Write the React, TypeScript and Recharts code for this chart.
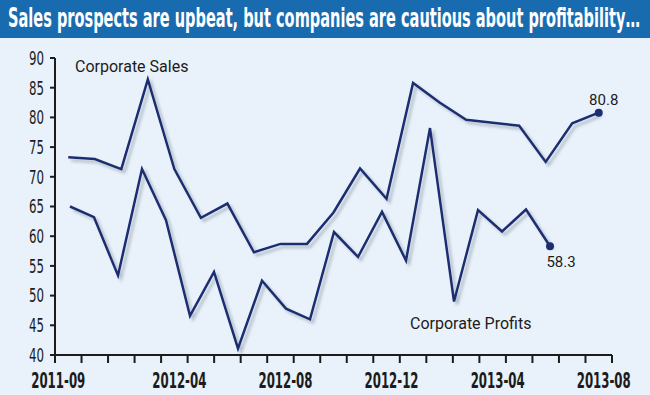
import { LineChart, Line, XAxis, YAxis } from "recharts";

document.body.style.margin = "0";

// values, in order of the points along each line
const salesValues = [73.3, 73.0, 71.3, 86.4, 71.3, 63.1, 65.5, 57.3, 58.7, 58.7, 64.0, 71.4, 66.3, 85.8, 82.5, 79.6, 79.1, 78.6, 72.5, 79.0, 80.8];
const profitValues = [65.0, 63.2, 53.4, 71.3, 62.7, 46.6, 54.0, 41.1, 52.5, 47.8, 46.0, 60.7, 56.5, 64.1, 55.9, 78.2, 49.0, 64.4, 60.8, 64.5, 58.3];

const xLabels = ["2011-09", "2012-04", "2012-08", "2012-12", "2013-04", "2013-08"];
const xLabelAt = [0, 4, 8, 12, 16, 20];
const yTicks = [40, 45, 50, 55, 60, 65, 70, 75, 80, 85, 90];

const salesData = salesValues.map((v, i) => ({ si: i, sales: v }));
const profitData = profitValues.map((v, i) => ({ pi: i, profits: v }));

// boundary marks between periods, plus the labelled periods
const xTicks = [
  ...Array.from({ length: salesValues.length + 1 }, (_, k) => k - 0.5),
  ...xLabelAt,
];

const NAVY = "#1e2d72";
const INK = "#1c1c1c";
const CONDENSED = "'Liberation Sans Narrow', 'DejaVu Sans Condensed', 'Liberation Sans', sans-serif";
const PLAIN = "Roboto, 'Noto Sans', sans-serif";

function XTick(props: any) {
  const { x, y, payload } = props;
  const k = xLabelAt.indexOf(payload.value);
  if (k < 0) {
    return <line x1={x} x2={x} y1={y} y2={y + 8} stroke={INK} strokeWidth={2} />;
  }
  return (
    <text
      x={x + (k === 0 ? -10 : 5)}
      y={y + 33}
      textAnchor="middle"
      fontFamily={CONDENSED}
      fontWeight="bold"
      fontSize={22}
      fill={INK}
      textLength={54}
      lengthAdjust="spacingAndGlyphs"
    >
      {xLabels[k]}
    </text>
  );
}

function YTick(props: any) {
  const { x, y, payload } = props;
  return (
    <text
      x={x}
      y={y}
      dy="0.36em"
      textAnchor="end"
      fontFamily={CONDENSED}
      fontSize={19}
      fill={INK}
      textLength={15}
      lengthAdjust="spacingAndGlyphs"
    >
      {payload.value}
    </text>
  );
}

const endDot = (len: number, key: string, dx: number, dy: number) => (p: any) => {
  if (p.index !== len - 1) return <g key={`d${key}${p.index}`} />;
  return (
    <g key={`d${key}${p.index}`}>
      <circle cx={p.cx} cy={p.cy} r={4} fill={NAVY} />
      <text
        x={p.cx + dx}
        y={p.cy + dy}
        textAnchor="middle"
        fontFamily={PLAIN}
        fontSize={15}
        fill={INK}
      >
        {p.payload[key]}
      </text>
    </g>
  );
};

export default function App() {
  return (
    <div style={{ position: "relative", width: 650, height: 395, background: "#e9f2fa" }}>
      <LineChart width={650} height={395} margin={{ top: 58, right: 38, left: 0, bottom: 0 }}>
        <defs>
          <filter id="lineShadow" x="-5%" y="-5%" width="110%" height="120%">
            <feDropShadow dx="3" dy="3" stdDeviation="1.5" floodColor="#7d8a9c" floodOpacity="0.55" />
          </filter>
        </defs>
        <XAxis
          xAxisId="s"
          dataKey="si"
          type="number"
          domain={[-0.5, 20.5]}
          ticks={xTicks}
          interval={0}
          height={40}
          tickSize={0}
          tickMargin={0}
          tick={<XTick />}
          axisLine={{ stroke: INK, strokeWidth: 2 }}
          tickLine={false}
        />
        <XAxis xAxisId="p" dataKey="pi" type="number" domain={[-0.625, 22.583]} height={0} hide />
        <YAxis
          domain={[40, 90]}
          ticks={yTicks}
          interval={0}
          width={55}
          tickSize={5}
          tickMargin={6}
          tick={<YTick />}
          axisLine={{ stroke: INK, strokeWidth: 2 }}
          tickLine={{ stroke: INK, strokeWidth: 2 }}
        />
        <Line
          xAxisId="s"
          data={salesData}
          dataKey="sales"
          type="linear"
          stroke={NAVY}
          strokeWidth={2.5}
          filter="url(#lineShadow)"
          dot={endDot(salesValues.length, "sales", 5, -8)}
          activeDot={false}
          isAnimationActive={false}
        />
        <Line
          xAxisId="p"
          data={profitData}
          dataKey="profits"
          type="linear"
          stroke={NAVY}
          strokeWidth={2.5}
          filter="url(#lineShadow)"
          dot={endDot(profitValues.length, "profits", 11, 21)}
          activeDot={false}
          isAnimationActive={false}
        />
        <text x={75} y={72} fontFamily={PLAIN} fontSize={16} fill={INK}>
          Corporate Sales
        </text>
        <text x={410} y={329} fontFamily={PLAIN} fontSize={16} fill={INK}>
          Corporate Profits
        </text>
      </LineChart>
      <div style={{ position: "absolute", left: 0, top: 0, width: 650, height: 38, background: "#196bb0" }}>
        <svg width={650} height={38}>
          <text
            x={8}
            y={27}
            fontFamily={CONDENSED}
            fontWeight="bold"
            fontSize={26}
            fill="#ffffff"
            textLength={632}
            lengthAdjust="spacingAndGlyphs"
          >
            Sales prospects are upbeat, but companies are cautious about profitability…
          </text>
        </svg>
      </div>
    </div>
  );
}
